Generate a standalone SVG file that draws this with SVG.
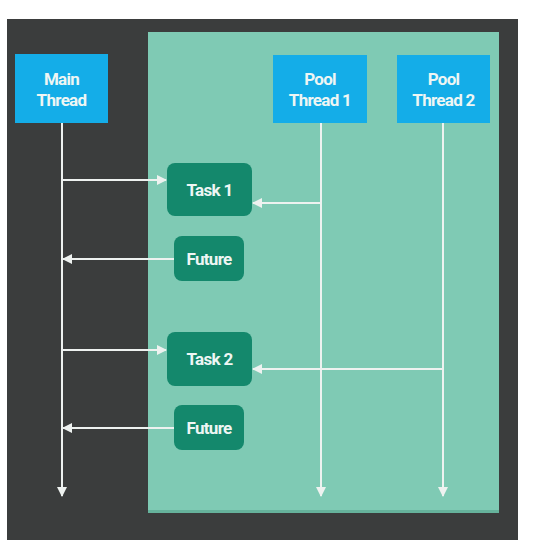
<svg xmlns="http://www.w3.org/2000/svg" width="533" height="544" viewBox="0 0 533 544">
<defs>
<style>
.thread{fill:#14ade8}
.task{fill:#14886c}
.lbl{font-family:Roboto,"Liberation Sans",sans-serif;font-weight:bold;font-size:17px;letter-spacing:-0.7px;fill:#eef6f4;text-anchor:middle}
.ln{stroke:#eef2f0;stroke-width:2;fill:none}
</style>
<marker id="ah" viewBox="0 0 10 10" refX="9" refY="5" markerWidth="5" markerHeight="5" orient="auto" markerUnits="strokeWidth">
<path d="M0,0 L10,5 L0,10 z" fill="#eef2f0"/>
</marker>
</defs>
<rect width="533" height="544" fill="#ffffff"/>
<rect x="7" y="19" width="511" height="521" fill="#3b3d3d"/>
<rect x="148" y="32" width="351" height="481" fill="#66b39c"/>
<rect x="148" y="32" width="351" height="478" fill="#7fcab4"/>
<g id="main-thread">
<rect class="thread" x="15" y="54" width="93" height="69"/>
<text class="lbl" x="61.5" y="85">Main</text>
<text class="lbl" x="61.5" y="106">Thread</text>
</g>
<g id="pool-thread-1">
<rect class="thread" x="273" y="55" width="94" height="68"/>
<text class="lbl" x="320" y="85">Pool</text>
<text class="lbl" x="320" y="106">Thread 1</text>
</g>
<g id="pool-thread-2">
<rect class="thread" x="397" y="55" width="93" height="68"/>
<text class="lbl" x="443.5" y="85">Pool</text>
<text class="lbl" x="443.5" y="106">Thread 2</text>
</g>
<g id="task-1">
<rect class="task" x="167" y="163" width="85" height="53" rx="8"/>
<text class="lbl" x="209.5" y="196">Task 1</text>
</g>
<g id="future-1">
<rect class="task" x="174" y="236" width="70" height="45" rx="8"/>
<text class="lbl" x="209" y="265">Future</text>
</g>
<g id="task-2">
<rect class="task" x="167" y="332" width="85" height="54" rx="8"/>
<text class="lbl" x="209.5" y="365">Task 2</text>
</g>
<g id="future-2">
<rect class="task" x="174" y="405" width="70" height="45" rx="8"/>
<text class="lbl" x="209" y="434">Future</text>
</g>
<g id="connectors">
<path class="ln" d="M62,123 V496" marker-end="url(#ah)"/>
<path class="ln" d="M321,123 V496" marker-end="url(#ah)"/>
<path class="ln" d="M443,123 V496" marker-end="url(#ah)"/>
<path class="ln" d="M62,180 H166" marker-end="url(#ah)"/>
<path class="ln" d="M321,203 H253" marker-end="url(#ah)"/>
<path class="ln" d="M174,259 H63" marker-end="url(#ah)"/>
<path class="ln" d="M62,350 H166" marker-end="url(#ah)"/>
<path class="ln" d="M443,369 H253" marker-end="url(#ah)"/>
<path class="ln" d="M174,428 H63" marker-end="url(#ah)"/>
</g>
</svg>
